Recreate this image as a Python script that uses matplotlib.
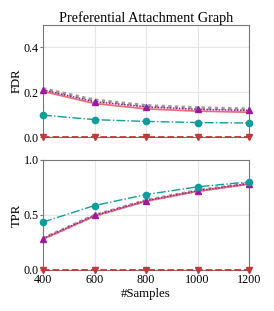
import numpy as np
import matplotlib
matplotlib.use("Agg")
import matplotlib.pyplot as plt

plt.rcParams["font.family"] = ["Liberation Serif", "DejaVu Serif"]
plt.rcParams["mathtext.fontset"] = "stix"

# ----------------------------
# Data
# ----------------------------
samples = [400, 600, 800, 1000, 1200]

fdr_gray   = [0.215, 0.165, 0.140, 0.130, 0.125]
fdr_purple = [0.210, 0.158, 0.135, 0.124, 0.119]
fdr_red    = [0.204, 0.150, 0.126, 0.116, 0.111]
fdr_teal   = [0.098, 0.078, 0.070, 0.065, 0.063]
fdr_brown  = [0.0, 0.0, 0.0, 0.0, 0.0]

tpr_gray   = [0.285, 0.495, 0.630, 0.720, 0.785]
tpr_purple = [0.285, 0.495, 0.630, 0.720, 0.785]
tpr_red    = [0.280, 0.490, 0.625, 0.715, 0.780]
tpr_teal   = [0.435, 0.585, 0.685, 0.755, 0.800]
tpr_brown  = [0.0, 0.0, 0.0, 0.0, 0.0]

styles = {
    "gray":   dict(color="#9a9a9a", linestyle=(0, (1, 1)), linewidth=2.4, marker=None),
    "red":    dict(color="#e8707a", linestyle="-", linewidth=1.3, marker=None),
    "purple": dict(color="#9b1c9b", linestyle=(0, (1, 1)), linewidth=1.1, marker="^", markersize=4.5),
    "teal":   dict(color="#119c9c", linestyle="-.", linewidth=1.0, marker="o", markersize=4.5),
    "brown":  dict(color="#c0393a", linestyle="--", linewidth=1.3, marker="v", markersize=4.5),
}

TICK_FS = 8.7
LABEL_FS = 9.2
TITLE_FS = 10.3

fig = plt.figure(figsize=(2.74, 3.11), dpi=100)
ax1 = fig.add_axes([0.157, 0.559, 0.752, 0.361])
ax2 = fig.add_axes([0.157, 0.132, 0.752, 0.354])


def draw(ax, series):
    for key, vals in series:
        ax.plot(samples, vals, zorder=3, clip_on=False, **styles[key])
    ax.set_xlim(400, 1200)
    ax.set_xticks(samples)
    ax.grid(True, color="#e6e6e6", linewidth=0.8)
    ax.set_axisbelow(True)
    for s in ax.spines.values():
        s.set_color("#777777")
        s.set_linewidth(0.8)
    ax.tick_params(labelsize=TICK_FS, length=2, color="#777777", pad=1)


draw(ax1, [("gray", fdr_gray), ("red", fdr_red), ("purple", fdr_purple),
           ("teal", fdr_teal), ("brown", fdr_brown)])
ax1.set_ylim(0, 0.5)
ax1.set_yticks([0.0, 0.2, 0.4])
ax1.set_yticklabels(["0.0", "0.2", "0.4"])
ax1.tick_params(axis="x", labelbottom=False)
ax1.set_ylabel("FDR", fontsize=LABEL_FS, labelpad=1)
ax1.set_title("Preferential Attachment Graph", fontsize=TITLE_FS, pad=2)

draw(ax2, [("gray", tpr_gray), ("red", tpr_red), ("purple", tpr_purple),
           ("teal", tpr_teal), ("brown", tpr_brown)])
ax2.set_ylim(0, 1.0)
ax2.set_yticks([0.0, 0.5, 1.0])
ax2.set_yticklabels(["0.0", "0.5", "1.0"])
ax2.set_ylabel("TPR", fontsize=LABEL_FS, labelpad=1)
ax2.set_xlabel("#Samples", fontsize=LABEL_FS, labelpad=1)

plt.savefig("out.png", dpi=100)
